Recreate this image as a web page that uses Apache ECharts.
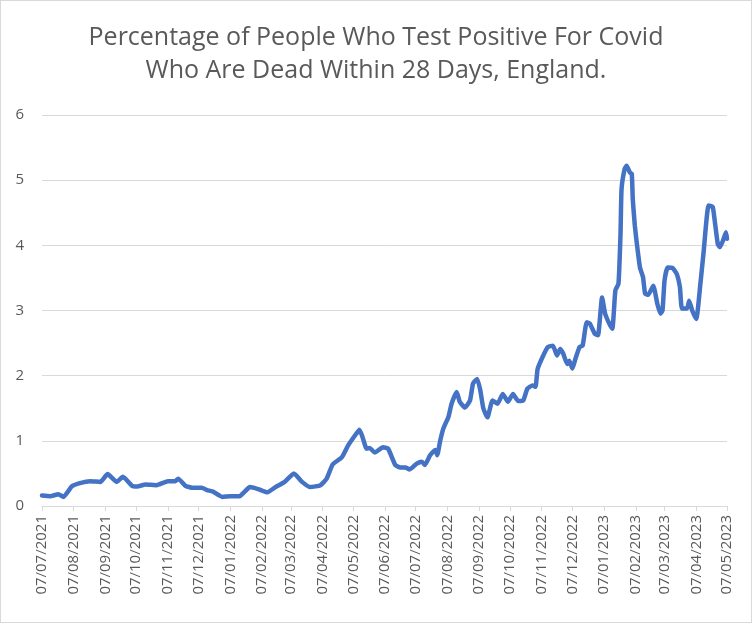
<!DOCTYPE html>
<html>
<head>
<meta charset="utf-8">
<script src="https://cdn.jsdelivr.net/npm/echarts@6/dist/echarts.min.js"></script>
<style>
html,body{margin:0;padding:0;background:#fff;}
#c{width:752px;height:623px;box-sizing:border-box;border:1px solid #d9d9d9;}
</style>
</head>
<body>
<div id="c"></div>
<script>
// Days since 07/07/2021
const dayOffsets = [0,8,16,21,29,37,47,57,64,73,79,88,93,101,112,123,130,133,140,147,156,161,167,176,184,193,198,203,211,220,228,237,246,254,262,272,278,284,293,299,306,310,313,317,320,325,333,338,345,350,355,359,366,371,374,379,384,386,389,392,397,400,405,408,413,418,421,425,428,431,435,440,445,450,455,460,465,470,474,479,482,484,489,494,499,503,506,509,513,515,518,521,525,528,532,535,540,543,547,550,554,557,560,563,565,566,569,571,574,576,577,579,581,584,587,589,592,597,601,604,606,608,611,616,620,623,625,630,632,635,639,643,646,651,655,657,660,662,665,668,669];
const percentDead = [0.16,0.15,0.18,0.14,0.30,0.35,0.38,0.37,0.49,0.37,0.45,0.31,0.30,0.33,0.32,0.38,0.38,0.42,0.31,0.28,0.28,0.245,0.22,0.14,0.15,0.15,0.22,0.29,0.26,0.21,0.29,0.37,0.50,0.37,0.29,0.32,0.42,0.64,0.75,0.93,1.09,1.17,1.06,0.88,0.89,0.82,0.90,0.88,0.63,0.59,0.59,0.56,0.65,0.68,0.63,0.78,0.86,0.78,1.01,1.19,1.37,1.57,1.75,1.60,1.51,1.62,1.88,1.95,1.78,1.50,1.36,1.62,1.57,1.72,1.60,1.72,1.61,1.62,1.80,1.85,1.83,2.10,2.29,2.44,2.46,2.31,2.41,2.34,2.18,2.23,2.11,2.26,2.44,2.46,2.82,2.80,2.64,2.62,3.20,2.95,2.80,2.72,3.31,3.41,4.17,4.86,5.17,5.22,5.12,5.10,4.70,4.30,4.02,3.66,3.51,3.26,3.24,3.38,3.10,2.95,3.00,3.46,3.66,3.65,3.56,3.36,3.03,3.03,3.15,3.00,2.87,3.41,3.87,4.61,4.59,4.38,4.02,3.97,4.07,4.20,4.10];
const monthOffsets = [0,31,62,92,123,153,184,215,243,274,304,335,365,396,427,457,488,518,549,580,608,639,669];
const tickLabels = ['07/07/2021','07/08/2021','07/09/2021','07/10/2021','07/11/2021','07/12/2021','07/01/2022','07/02/2022','07/03/2022','07/04/2022','07/05/2022','07/06/2022','07/07/2022','07/08/2022','07/09/2022','07/10/2022','07/11/2022','07/12/2022','07/01/2023','07/02/2023','07/03/2023','07/04/2023','07/05/2023'];
const titleText = 'Percentage of People Who Test Positive For Covid\nWho Are Dead Within 28 Days, England.';

const chart = echarts.init(document.getElementById('c'), null, {renderer:'canvas'});
chart.setOption({
  animation:false,
  backgroundColor:'#fff',
  title:{
    text:titleText,
    left:'center',
    top:15,
    textStyle:{fontFamily:'Open Sans',fontSize:25,fontWeight:'normal',color:'#595959',lineHeight:33}
  },
  grid:{left:41,right:24,top:114,bottom:116,containLabel:false},
  xAxis:{
    type:'value',
    min:0,max:669,
    axisLine:{show:true,lineStyle:{color:'#d9d9d9',width:1}},
    axisTick:{show:true,length:5,lineStyle:{color:'#d9d9d9'},customValues:monthOffsets},
    axisLabel:{
      customValues:monthOffsets,
      rotate:90,
      margin:9,
      fontFamily:'Open Sans',
      fontSize:15,
      color:'#595959',
      formatter:function(v){const i=monthOffsets.indexOf(v);return i>=0?tickLabels[i]:'';}
    },
    splitLine:{show:false}
  },
  yAxis:{
    type:'value',
    min:0,max:6,interval:1,
    axisLine:{show:false},
    axisTick:{show:false},
    axisLabel:{fontFamily:'Open Sans',fontSize:15,color:'#595959',margin:18},
    splitLine:{lineStyle:{color:'#d9d9d9',width:1}}
  },
  series:[{
    type:'line',
    data:dayOffsets.map((d,i)=>[d,percentDead[i]]),
    showSymbol:false,
    smooth:0.15,
    lineStyle:{color:'#4472C4',width:4.5,join:'round',cap:'round'},
    itemStyle:{color:'#4472C4'}
  }]
});
</script>
</body>
</html>
